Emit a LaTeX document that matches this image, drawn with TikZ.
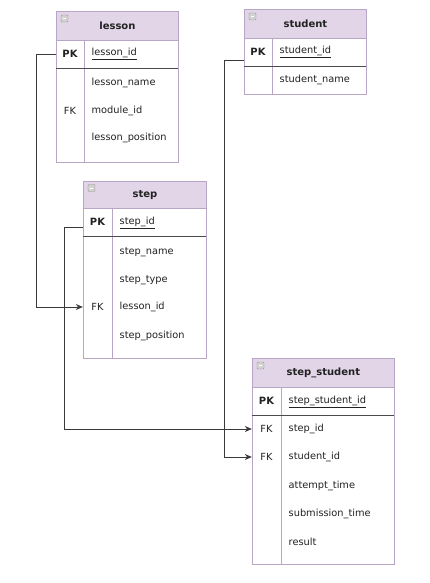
\documentclass[tikz,border=0pt]{standalone}
\usepackage{fontspec}
\setmainfont{DejaVu Sans}
\usetikzlibrary{arrows.meta}

\definecolor{hdrfill}{HTML}{E1D5E7}
\definecolor{tblline}{HTML}{B9A5C6}
\definecolor{sepline}{HTML}{4A4A4A}
\definecolor{wire}{HTML}{3A3A3A}
\definecolor{ink}{HTML}{222222}

\tikzset{
  frame/.style={draw=tblline, line width=0.8pt, fill=white, anchor=north west, inner sep=0pt},
  head/.style={draw=tblline, line width=0.8pt, fill=hdrfill, anchor=north west, inner sep=0pt, font=\bfseries},
  icon/.style={draw=gray!80, fill=gray!35, rounded corners=1pt, minimum size=7pt, inner sep=0pt,
    path picture={\draw[white, line width=0.8pt]
      ([xshift=1.6pt]path picture bounding box.west) -- ([xshift=-1.6pt]path picture bounding box.east);}},
  keycell/.style={anchor=center, inner sep=0pt, minimum height=28pt},
  pkcell/.style={keycell, font=\bfseries},
  field/.style={anchor=west, inner sep=0pt},
  divider/.style={draw=tblline, line width=0.8pt},
  sep/.style={draw=sepline, line width=0.8pt},
  wire/.style={draw=wire, line width=0.8pt},
  fk/.style={wire, -{Stealth[length=7pt,width=6pt]}},
}

\begin{document}
\begin{tikzpicture}[x=1pt, y=-1pt, every node/.style={text=ink, font=\fontsize{9.8}{11}\selectfont}]
\fill[white] (0,0) rectangle (430,583);
\useasboundingbox (0,0) rectangle (430,583);

% ---- lesson ----
\node[frame, minimum width=122pt, minimum height=151pt] (lesson) at (56,11) {};
\node[head, minimum width=122pt, minimum height=29pt] (lessonHead) at (56,11) {lesson};
\node[icon] (lessonIcon) at (64.5,18.5) {};
\draw[divider] (84,40) -- (84,162);
\draw[sep] (56,68) -- (178,68);
\node[pkcell, minimum width=28pt] (lessonPK) at (70,54) {PK};
\node[field] (lessonF1) at (91.5,54) {\underline{lesson\_id}};
\node[field] (lessonF2) at (91.5,83) {lesson\_name};
\node[keycell, minimum width=28pt] (lessonFK) at (70,111) {FK};
\node[field] (lessonF3) at (91.5,111) {module\_id};
\node[field] (lessonF4) at (91.5,138) {lesson\_position};

% ---- student ----
\node[frame, minimum width=122pt, minimum height=85pt] (student) at (244,9) {};
\node[head, minimum width=122pt, minimum height=29pt] (studentHead) at (244,9) {student};
\node[icon] (studentIcon) at (252.5,16.5) {};
\draw[divider] (272,38) -- (272,94);
\draw[sep] (244,66) -- (366,66);
\node[pkcell, minimum width=28pt] (studentPK) at (258,52) {PK};
\node[field] (studentF1) at (279.5,52) {\underline{student\_id}};
\node[field] (studentF2) at (279.5,80) {student\_name};

% ---- step ----
\node[frame, minimum width=123pt, minimum height=177pt] (step) at (83,181) {};
\node[head, minimum width=123pt, minimum height=27pt] (stepHead) at (83,181) {step};
\node[icon] (stepIcon) at (91.5,188) {};
\draw[divider] (112,208) -- (112,358);
\draw[sep] (83,236) -- (206,236);
\node[pkcell, minimum width=29pt] (stepPK) at (97.5,222) {PK};
\node[field] (stepF1) at (119.5,223) {\underline{step\_id}};
\node[field] (stepF2) at (119.5,252) {step\_name};
\node[field] (stepF3) at (119.5,280) {step\_type};
\node[keycell, minimum width=29pt] (stepFK) at (97.5,307) {FK};
\node[field] (stepF4) at (119.5,307) {lesson\_id};
\node[field] (stepF5) at (119.5,336) {step\_position};

% ---- step_student ----
\node[frame, minimum width=142pt, minimum height=206pt] (ss) at (252,358) {};
\node[head, minimum width=142pt, minimum height=29pt] (ssHead) at (252,358) {step\_student};
\node[icon] (ssIcon) at (260.5,365.5) {};
\draw[divider] (281,387) -- (281,564);
\draw[sep] (252,415) -- (394,415);
\node[pkcell, minimum width=29pt] (ssPK) at (266.5,401) {PK};
\node[field] (ssF1) at (288.5,402) {\underline{step\_student\_id}};
\node[keycell, minimum width=29pt] (ssFK1) at (266.5,429) {FK};
\node[field] (ssF2) at (288.5,429) {step\_id};
\node[keycell, minimum width=29pt] (ssFK2) at (266.5,457) {FK};
\node[field] (ssF3) at (288.5,457) {student\_id};
\node[field] (ssF4) at (288.5,486) {attempt\_time};
\node[field] (ssF5) at (288.5,514) {submission\_time};
\node[field] (ssF6) at (288.5,542) {result};

% ---- relations ----
\draw[fk] (lessonPK.west) -- ++(-19,0) |- (stepFK.west);
\draw[fk] ([yshift=-5pt]stepPK.west) -- ++(-18,0) |- (ssFK1.west);
\draw[fk] ([yshift=-8pt]studentPK.west) -- ++(-19,0) |- (ssFK2.west);
\end{tikzpicture}
\end{document}
